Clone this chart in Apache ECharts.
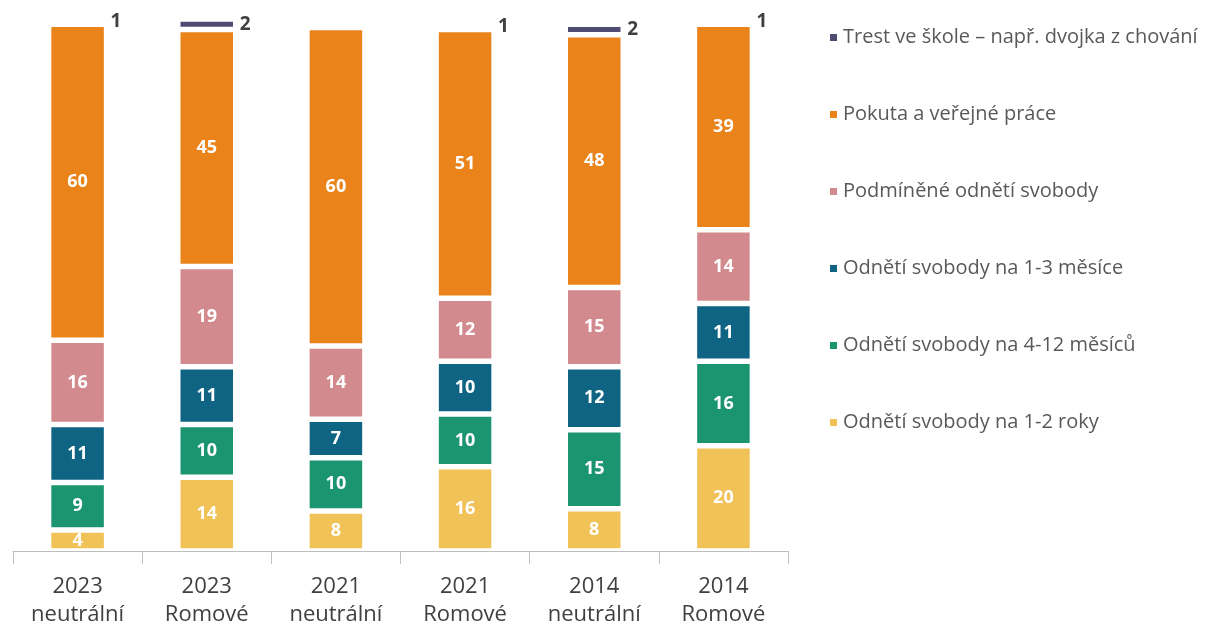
<!DOCTYPE html>
<html>
<head>
<meta charset="utf-8">
<script src="https://cdn.jsdelivr.net/npm/echarts@6/dist/echarts.min.js"></script>
<style>
  html, body { margin: 0; padding: 0; background: #fff; }
  #chart { width: 1206px; height: 624px; }
</style>
</head>
<body>
<div id="chart"></div>
<script>
  // kategorie na ose x
  let categories = ['2023\nneutrální', '2023\nRomové', '2021\nneutrální', '2021\nRomové', '2014\nneutrální', '2014\nRomové']

  // hodnoty odspodu nahoru (popisky se zaokrouhlují)
  let roky12 = [4, 14, 7.6, 16, 8, 20]
  let mesicu412 = [9, 10, 10.1, 10, 15, 16]
  let mesice13 = [11, 11, 7.3, 10, 12, 11]
  let podminene = [16, 19, 13.9, 12, 15, 14]
  let pokuta = [60, 45, 60.49, 51, 48, 39]
  let trest = [1, 2, 0, 1, 2, 1]

  let names = [
    'Odnětí svobody na 1-2 roky',
    'Odnětí svobody na 4-12 měsíců',
    'Odnětí svobody na 1-3 měsíce',
    'Podmíněné odnětí svobody',
    'Pokuta a veřejné práce',
    'Trest ve škole – např. dvojka z chování'
  ]
  let values = [roky12, mesicu412, mesice13, podminene, pokuta, trest]
  let colors = ['#F0C257', '#1B9470', '#0F6383', '#D38A8E', '#E9831A', '#4F4C74']

  let myChart = echarts.init(document.getElementById('chart'))

  let series = values.map(function(data, i) {
    let top = i === values.length - 1
    return {
      name: names[i],
      type: 'bar',
      stack: 'total',
      barWidth: 58,
      data: data,
      itemStyle: {
        color: colors[i],
        borderColor: '#fff',
        borderWidth: 2.75
      },
      label: {
        show: true,
        position: top ? 'right' : 'inside',
        distance: 4,
        color: top ? '#404040' : '#fff',
        fontFamily: 'Open Sans',
        fontWeight: 'bold',
        fontSize: top ? 19 : 18,
        formatter: function(p) {
          return p.value ? Math.round(p.value) : ''
        }
      }
    }
  })

  let option = {
    animation: false,
    color: colors,
    grid: {
      left: 13,
      right: 418,
      top: 0,
      bottom: 73,
      outerBoundsMode: 'none'
    },
    legend: {
      orient: 'vertical',
      left: 823,
      top: 21,
      itemWidth: 9,
      itemHeight: 9,
      itemGap: 54,
      icon: 'rect',
      data: names.slice().reverse(),
      textStyle: {
        color: '#595959',
        fontFamily: 'Open Sans',
        fontSize: 20,
        lineHeight: 23
      }
    },
    xAxis: {
      type: 'category',
      data: categories,
      axisLine: {
        lineStyle: { color: '#BFBFBF', width: 1 }
      },
      axisTick: {
        show: true,
        length: 13,
        lineStyle: { color: '#BFBFBF' }
      },
      axisLabel: {
        color: '#404040',
        fontFamily: 'Open Sans',
        fontSize: 22,
        lineHeight: 28,
        margin: 22
      }
    },
    yAxis: {
      type: 'value',
      min: 0,
      max: 104.6,
      show: false
    },
    series: series
  }
  myChart.setOption(option)
</script>
</body>
</html>
